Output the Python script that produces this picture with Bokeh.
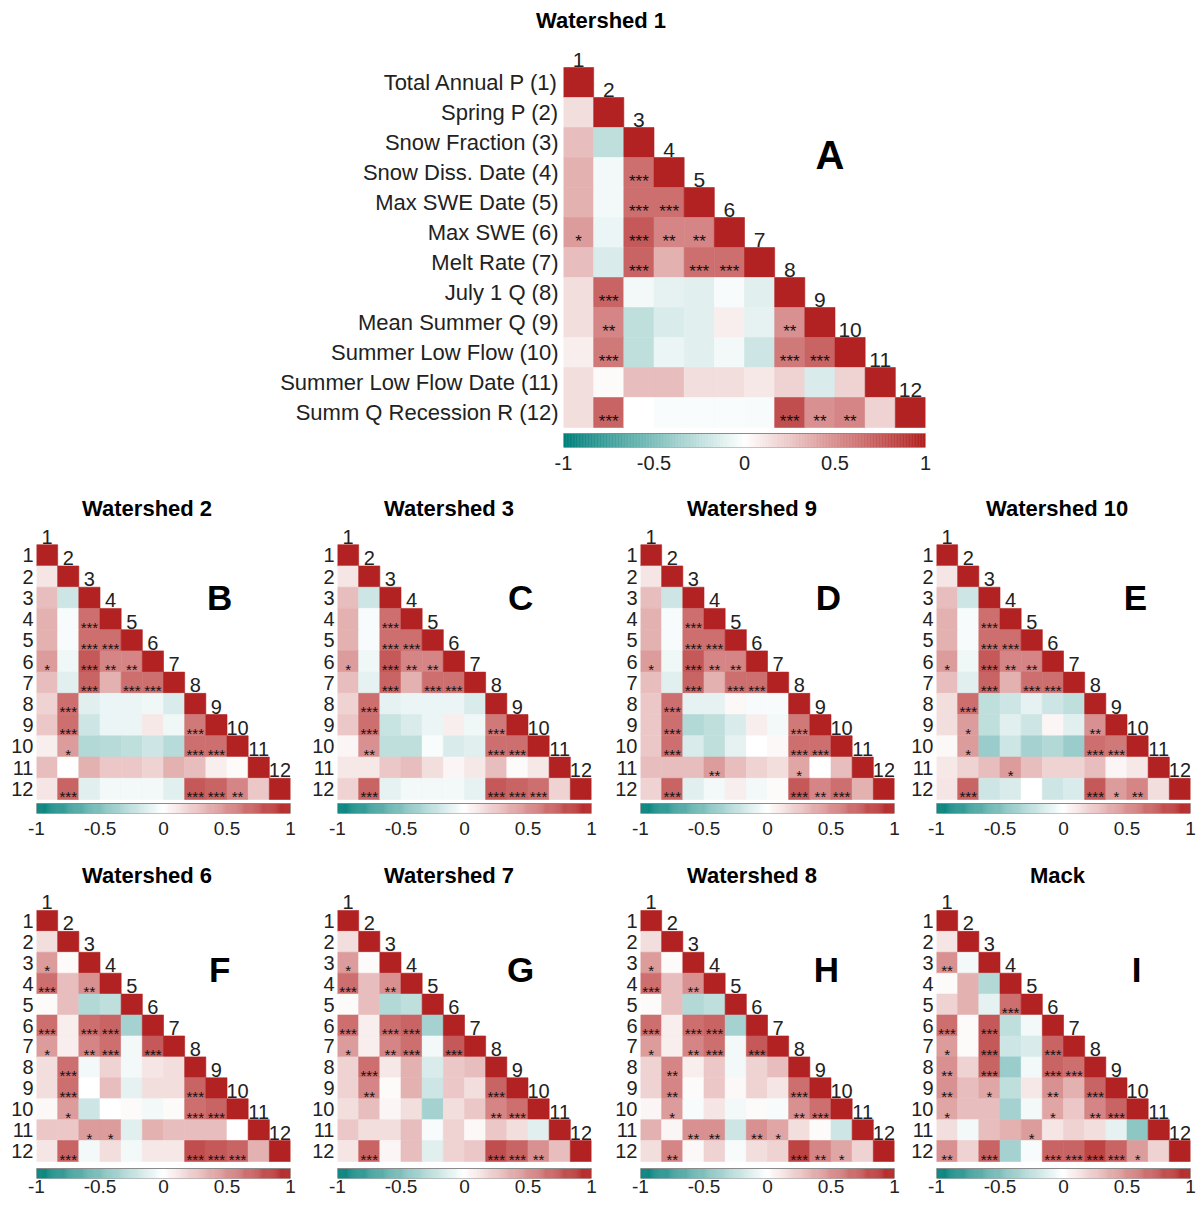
import numpy as np
from bokeh.plotting import figure
from bokeh.models import (ColumnDataSource, LinearColorMapper, Range1d, LinearAxis,
                          FixedTicker, NumeralTickFormatter, Label)
from bokeh.layouts import column, row
from bokeh.core.properties import value
from bokeh.embed import file_html
from bokeh.resources import INLINE

FONT = "Liberation Sans"

# ---------------- data ----------------
var_labels = ["Total Annual P (1)", "Spring P (2)", "Snow Fraction (3)", "Snow Diss. Date (4)",
              "Max SWE Date (5)", "Max SWE (6)", "Melt Rate (7)", "July 1 Q (8)",
              "Mean Summer Q (9)", "Summer Low Flow (10)", "Summer Low Flow Date (11)",
              "Summ Q Recession R (12)"]
num_labels = ["1", "2", "3", "4", "5", "6", "7", "8", "9", "10", "11", "12"]
cb_ticks = [-1.0, -0.5, 0.0, 0.5, 1.0]

# lower-triangle correlations, rows 2..12 (row i holds columns 1..i-1)
ws1_r = [[0.15],
         [0.30, -0.25],
         [0.35, -0.05, 0.65],
         [0.35, -0.05, 0.65, 0.65],
         [0.45, -0.08, 0.75, 0.55, 0.55],
         [0.30, -0.15, 0.70, 0.35, 0.65, 0.65],
         [0.15, 0.70, -0.05, -0.10, -0.12, -0.03, -0.12],
         [0.15, 0.55, -0.25, -0.15, -0.12, 0.08, -0.10, 0.50],
         [0.08, 0.60, -0.25, -0.08, -0.12, -0.05, -0.20, 0.60, 0.70],
         [0.15, 0.02, 0.30, 0.30, 0.15, 0.15, 0.10, 0.20, -0.15, 0.20],
         [0.15, 0.70, 0.00, -0.02, -0.02, -0.02, -0.03, 0.80, 0.50, 0.55, 0.20]]
ws1_sig = [[0], [0, 0], [0, 0, 3], [0, 0, 3, 3], [1, 0, 3, 2, 2], [0, 0, 3, 0, 3, 3],
           [0, 3, 0, 0, 0, 0, 0], [0, 2, 0, 0, 0, 0, 0, 2], [0, 3, 0, 0, 0, 0, 0, 3, 3],
           [0, 0, 0, 0, 0, 0, 0, 0, 0, 0], [0, 3, 0, 0, 0, 0, 0, 3, 2, 2, 0]]

ws2_r = [[0.12],
         [0.30, -0.20],
         [0.35, -0.03, 0.65],
         [0.35, -0.03, 0.65, 0.65],
         [0.45, -0.06, 0.75, 0.55, 0.55],
         [0.30, -0.12, 0.70, 0.35, 0.65, 0.65],
         [0.20, 0.65, -0.12, -0.08, -0.08, -0.06, -0.15],
         [0.25, 0.65, -0.20, -0.08, -0.08, 0.10, -0.06, 0.60],
         [0.08, 0.45, -0.30, -0.28, -0.25, -0.20, -0.28, 0.65, 0.65],
         [0.30, 0.00, 0.35, 0.25, 0.25, 0.20, 0.35, 0.30, 0.08, 0.02],
         [0.12, 0.70, -0.12, -0.05, -0.05, -0.05, -0.12, 0.75, 0.70, 0.55, 0.25]]
ws2_sig = [[0], [0, 0], [0, 0, 3], [0, 0, 3, 3], [1, 0, 3, 2, 2], [0, 0, 3, 0, 3, 3],
           [0, 3, 0, 0, 0, 0, 0], [0, 3, 0, 0, 0, 0, 0, 3], [0, 1, 0, 0, 0, 0, 0, 3, 3],
           [0, 0, 0, 0, 0, 0, 0, 0, 0, 0], [0, 3, 0, 0, 0, 0, 0, 3, 3, 2, 0]]

ws3_r = [[0.12],
         [0.30, -0.20],
         [0.35, -0.03, 0.65],
         [0.35, -0.03, 0.65, 0.65],
         [0.45, -0.06, 0.75, 0.55, 0.55],
         [0.30, -0.10, 0.70, 0.35, 0.65, 0.65],
         [0.20, 0.65, -0.10, -0.08, -0.08, -0.08, -0.15],
         [0.25, 0.65, -0.22, -0.15, -0.08, 0.08, -0.06, 0.60],
         [0.05, 0.50, -0.25, -0.25, -0.02, -0.15, -0.12, 0.65, 0.65],
         [0.10, 0.10, 0.25, 0.30, 0.15, 0.05, 0.10, 0.30, 0.02, 0.10],
         [0.20, 0.70, -0.10, -0.05, -0.05, -0.05, -0.10, 0.75, 0.70, 0.65, 0.20]]
ws3_sig = [[0], [0, 0], [0, 0, 3], [0, 0, 3, 3], [1, 0, 3, 2, 2], [0, 0, 3, 0, 3, 3],
           [0, 3, 0, 0, 0, 0, 0], [0, 3, 0, 0, 0, 0, 0, 3], [0, 2, 0, 0, 0, 0, 0, 3, 3],
           [0, 0, 0, 0, 0, 0, 0, 0, 0, 0], [0, 3, 0, 0, 0, 0, 0, 3, 3, 3, 0]]

ws9_r = [[0.12],
         [0.30, -0.20],
         [0.35, -0.03, 0.65],
         [0.35, -0.03, 0.65, 0.65],
         [0.45, -0.06, 0.75, 0.55, 0.55],
         [0.30, -0.12, 0.70, 0.35, 0.65, 0.65],
         [0.25, 0.65, -0.10, -0.10, 0.03, -0.03, -0.03],
         [0.25, 0.65, -0.30, -0.25, -0.15, 0.08, -0.05, 0.60],
         [0.25, 0.65, -0.15, -0.25, -0.10, 0.00, 0.03, 0.65, 0.65],
         [0.30, 0.30, 0.30, 0.45, 0.30, 0.20, 0.15, 0.40, 0.00, 0.30],
         [0.20, 0.70, -0.12, -0.05, 0.08, -0.05, 0.02, 0.75, 0.55, 0.65, 0.35]]
ws9_sig = [[0], [0, 0], [0, 0, 3], [0, 0, 3, 3], [1, 0, 3, 2, 2], [0, 0, 3, 0, 3, 3],
           [0, 3, 0, 0, 0, 0, 0], [0, 3, 0, 0, 0, 0, 0, 3], [0, 3, 0, 0, 0, 0, 0, 3, 3],
           [0, 0, 0, 2, 0, 0, 0, 1, 0, 0], [0, 3, 0, 0, 0, 0, 0, 3, 2, 3, 0]]

ws10_r = [[0.12],
          [0.30, -0.20],
          [0.35, -0.03, 0.65],
          [0.35, -0.03, 0.65, 0.65],
          [0.45, -0.06, 0.75, 0.55, 0.55],
          [0.30, -0.12, 0.70, 0.35, 0.65, 0.65],
          [0.15, 0.65, -0.25, -0.20, -0.10, -0.20, -0.25],
          [0.15, 0.45, -0.25, -0.12, -0.20, 0.05, -0.12, 0.50],
          [0.03, 0.45, -0.40, -0.20, -0.35, -0.30, -0.40, 0.65, 0.60],
          [0.10, 0.20, 0.30, 0.45, 0.30, 0.20, 0.20, 0.30, 0.05, 0.10],
          [0.12, 0.70, -0.20, -0.15, 0.00, -0.20, -0.15, 0.75, 0.45, 0.55, 0.15]]
ws10_sig = [[0], [0, 0], [0, 0, 3], [0, 0, 3, 3], [1, 0, 3, 2, 2], [0, 0, 3, 0, 3, 3],
            [0, 3, 0, 0, 0, 0, 0], [0, 1, 0, 0, 0, 0, 0, 2], [0, 1, 0, 0, 0, 0, 0, 3, 3],
            [0, 0, 0, 1, 0, 0, 0, 0, 0, 0], [0, 3, 0, 0, 0, 0, 0, 3, 1, 2, 0]]

ws6_r = [[0.15],
         [0.45, 0.02],
         [0.65, 0.30, 0.50],
         [0.02, 0.30, -0.30, -0.25],
         [0.65, 0.08, 0.65, 0.70, -0.35],
         [0.45, 0.08, 0.55, 0.65, -0.05, 0.75],
         [0.15, 0.65, -0.05, 0.20, -0.05, 0.12, 0.15],
         [0.15, 0.65, 0.00, 0.30, -0.10, 0.15, 0.15, 0.70],
         [0.03, 0.45, -0.20, 0.00, 0.02, -0.05, 0.02, 0.65, 0.70],
         [0.25, 0.25, 0.45, 0.45, -0.12, 0.35, 0.30, 0.30, 0.30, 0.00],
         [0.12, 0.70, -0.05, 0.15, -0.05, 0.10, 0.10, 0.80, 0.75, 0.70, 0.35]]
ws6_sig = [[0], [1, 0], [3, 0, 2], [0, 0, 0, 0], [3, 0, 3, 3, 0], [1, 0, 2, 3, 0, 3],
           [0, 3, 0, 0, 0, 0, 0], [0, 3, 0, 0, 0, 0, 0, 3], [0, 1, 0, 0, 0, 0, 0, 3, 3],
           [0, 0, 1, 1, 0, 0, 0, 0, 0, 0], [0, 3, 0, 0, 0, 0, 0, 3, 3, 3, 0]]

ws7_r = [[0.15],
         [0.45, 0.02],
         [0.65, 0.30, 0.50],
         [0.02, 0.30, -0.30, -0.25],
         [0.65, 0.08, 0.65, 0.70, -0.35],
         [0.45, 0.08, 0.55, 0.65, -0.05, 0.75],
         [0.20, 0.65, 0.10, 0.35, -0.15, 0.25, 0.30],
         [0.20, 0.55, 0.02, 0.35, -0.20, 0.25, 0.15, 0.70],
         [0.15, 0.30, 0.05, 0.15, -0.35, 0.15, 0.25, 0.55, 0.65],
         [0.25, 0.15, 0.15, 0.30, -0.03, 0.20, 0.03, 0.25, 0.15, -0.12],
         [0.12, 0.70, 0.05, 0.30, -0.12, 0.20, 0.25, 0.80, 0.70, 0.50, 0.30]]
ws7_sig = [[0], [1, 0], [3, 0, 2], [0, 0, 0, 0], [3, 0, 3, 3, 0], [1, 0, 2, 3, 0, 3],
           [0, 3, 0, 0, 0, 0, 0], [0, 2, 0, 0, 0, 0, 0, 3], [0, 0, 0, 0, 0, 0, 0, 2, 3],
           [0, 0, 0, 0, 0, 0, 0, 0, 0, 0], [0, 3, 0, 0, 0, 0, 0, 3, 3, 2, 0]]

ws8_r = [[0.15],
         [0.45, 0.02],
         [0.65, 0.30, 0.50],
         [0.02, 0.30, -0.30, -0.25],
         [0.65, 0.08, 0.65, 0.70, -0.35],
         [0.45, 0.08, 0.55, 0.65, -0.05, 0.75],
         [0.20, 0.55, 0.08, 0.25, -0.05, 0.20, 0.30],
         [0.20, 0.55, 0.02, 0.25, 0.03, 0.20, 0.12, 0.65],
         [0.05, 0.45, -0.03, 0.12, -0.05, 0.02, -0.03, 0.50, 0.65],
         [0.35, 0.05, 0.50, 0.50, -0.20, 0.50, 0.40, 0.15, 0.02, -0.20],
         [0.15, 0.55, 0.03, 0.20, -0.03, 0.15, 0.20, 0.85, 0.55, 0.40, 0.20]]
ws8_sig = [[0], [1, 0], [3, 0, 2], [0, 0, 0, 0], [3, 0, 3, 3, 0], [1, 0, 2, 3, 0, 3],
           [0, 2, 0, 0, 0, 0, 0], [0, 2, 0, 0, 0, 0, 0, 3], [0, 1, 0, 0, 0, 0, 0, 2, 3],
           [0, 0, 2, 2, 0, 2, 1, 0, 0, 0], [0, 2, 0, 0, 0, 0, 0, 3, 2, 1, 0]]

mack_r = [[0.12],
          [0.50, -0.05],
          [0.02, 0.35, -0.30],
          [0.20, 0.35, -0.10, 0.65],
          [0.65, 0.02, 0.75, -0.25, -0.05],
          [0.45, 0.02, 0.75, -0.20, -0.15, 0.70],
          [0.50, 0.20, 0.70, -0.40, -0.05, 0.70, 0.65],
          [0.50, 0.30, 0.40, -0.25, 0.10, 0.50, 0.35, 0.70],
          [0.40, 0.30, 0.30, -0.35, -0.05, 0.40, 0.25, 0.55, 0.70],
          [0.15, -0.05, 0.30, 0.35, 0.45, 0.12, 0.20, 0.15, -0.10, -0.45],
          [0.50, 0.20, 0.70, -0.35, -0.03, 0.70, 0.70, 0.85, 0.70, 0.45, 0.20]]
mack_sig = [[0], [2, 0], [0, 0, 0], [0, 0, 0, 3], [3, 0, 3, 0, 0], [1, 0, 3, 0, 0, 3],
            [2, 0, 3, 0, 0, 3, 3], [2, 0, 1, 0, 0, 2, 0, 3], [1, 0, 0, 0, 0, 1, 0, 2, 3],
            [0, 0, 0, 0, 1, 0, 0, 0, 0, 0], [2, 0, 3, 0, 0, 3, 3, 3, 3, 1, 0]]

# ---------------- styling ----------------
def make_palette(n=255):
    teal = np.array([0, 128, 122], dtype=float)
    white = np.array([255, 255, 255], dtype=float)
    red = np.array([178, 34, 34], dtype=float)
    out = []
    for t in np.linspace(-1, 1, n):
        c = white + (teal - white) * (-t) if t < 0 else white + (red - white) * t
        out.append("#%02x%02x%02x" % tuple(int(round(v)) for v in c))
    return out

PAL = make_palette()
mapper = LinearColorMapper(palette=PAL, low=-1, high=1)
TXT = "#222222"
BOLD_EM = {"W": .944, "a": .556, "t": .333, "e": .556, "r": .389, "s": .556, "h": .611,
           "d": .611, " ": .278, "M": .833, "c": .556, "k": .556}


def text_w(s, fs):
    return sum(BOLD_EM.get(ch, .556) for ch in s) * fs


def panel(title, r_rows, sig_rows, labels, letter, letter_xy, fw, fh, mb, title_cx,
          frame_left, title_fs, title_standoff, lab_fs, lab_standoff, num_fs, star_fs,
          letter_fs, tick_fs, tick_standoff, gap, barh):
    cy = (fh - gap - barh) / 13.0
    ybot = 12.5 + (gap + barh) / cy
    p = figure(frame_width=fw, frame_height=fh, x_range=Range1d(0.5, 12.5),
               y_range=Range1d(ybot, -0.5), x_axis_location=None, y_axis_location="left",
               output_backend="svg", toolbar_location=None, tools="", title=title,
               min_border_left=mb[0], min_border_right=mb[1], min_border_top=mb[2],
               min_border_bottom=mb[3])
    p.outline_line_color = None
    p.xgrid.visible = False
    p.ygrid.visible = False
    p.background_fill_color = "white"
    p.border_fill_color = "white"

    p.title.text_font = FONT
    p.title.text_font_size = f"{title_fs}px"
    p.title.text_font_style = "bold"
    p.title.text_color = "black"
    p.title.align = "left"
    p.title.offset = title_cx - frame_left - text_w(title, title_fs) / 2.0
    p.title.standoff = title_standoff

    xs, ys, rs, st = [], [], [], []
    for i in range(1, 13):
        if i >= 2:
            vals = r_rows[i - 2]
            sg = sig_rows[i - 2]
            for j in range(1, i):
                xs.append(j)
                ys.append(i)
                rs.append(vals[j - 1])
                st.append("*" * sg[j - 1])
        xs.append(i)
        ys.append(i)
        rs.append(1.0)
        st.append("")
    src = ColumnDataSource(dict(x=xs, y=ys, r=rs, st=st))
    p.rect(x="x", y="y", width=1, height=1, source=src,
           fill_color={"field": "r", "transform": mapper},
           line_color={"field": "r", "transform": mapper}, line_width=0.6)
    p.text(x="x", y="y", text="st", source=src, text_align="center",
           text_baseline="alphabetic", y_offset=round(0.55 * star_fs),
           text_font=value(FONT), text_font_size=f"{star_fs}px", text_color="#111111")

    # column numbers above the diagonal
    nsrc = ColumnDataSource(dict(x=list(range(1, 13)), y=[k - 0.5 for k in range(1, 13)],
                                 t=num_labels))
    p.text(x="x", y="y", text="t", source=nsrc, text_align="center", text_baseline="bottom",
           y_offset=-1, text_font=value(FONT), text_font_size=f"{num_fs}px", text_color=TXT)

    # row labels
    p.yaxis.ticker = FixedTicker(ticks=list(range(1, 13)))
    p.yaxis.major_label_overrides = {k + 1: lab for k, lab in enumerate(labels)}
    p.yaxis.axis_line_color = None
    p.yaxis.major_tick_line_color = None
    p.yaxis.minor_tick_line_color = None
    p.yaxis.major_tick_out = 0
    p.yaxis.major_tick_in = 0
    p.yaxis.major_label_standoff = lab_standoff
    p.yaxis.major_label_text_font = FONT
    p.yaxis.major_label_text_font_size = f"{lab_fs}px"
    p.yaxis.major_label_text_color = TXT

    # colour bar
    p.extra_x_ranges = {"cb": Range1d(-1, 1)}
    n = 240
    edges = np.linspace(-1, 1, n + 1)
    centers = (edges[:-1] + edges[1:]) / 2
    cb_src = ColumnDataSource(dict(x=centers, v=centers))
    ycb = 12.5 + (gap + barh / 2.0) / cy
    hcb = barh / cy
    p.rect(x="x", y=ycb, width=2.0 / n, height=hcb, source=cb_src, x_range_name="cb",
           fill_color={"field": "v", "transform": mapper},
           line_color={"field": "v", "transform": mapper}, line_width=0.5)
    p.rect(x=0, y=ycb, width=2, height=hcb, x_range_name="cb", fill_color=None,
           line_color="#8a8a8a", line_width=1)
    ax = LinearAxis(x_range_name="cb", ticker=FixedTicker(ticks=cb_ticks),
                    formatter=NumeralTickFormatter(format="0.[0]"))
    ax.axis_line_color = None
    ax.major_tick_line_color = None
    ax.minor_tick_line_color = None
    ax.major_tick_out = 0
    ax.major_tick_in = 0
    ax.major_label_standoff = tick_standoff
    ax.major_label_text_font = FONT
    ax.major_label_text_font_size = f"{tick_fs}px"
    ax.major_label_text_color = TXT
    p.add_layout(ax, "below")

    p.add_layout(Label(x=letter_xy[0], y=letter_xy[1], text=letter, text_align="center",
                       text_baseline="middle", text_font=FONT,
                       text_font_size=f"{letter_fs}px", text_font_style="bold",
                       text_color="black"))
    return p


# panel A
pA = panel("Watershed 1", ws1_r, ws1_sig, var_labels, "A", (9.33, 3.43), 362, 410,
           (563, 10, 29, 43), 601, 563, 22, 10, 22, 5, 21, 17, 40, 20, 8, 6, 14)

small = [("Watershed 2", ws2_r, ws2_sig, "B", (9.15, 3.0)),
         ("Watershed 3", ws3_r, ws3_sig, "C", (9.15, 3.0)),
         ("Watershed 9", ws9_r, ws9_sig, "D", (9.38, 3.0)),
         ("Watershed 10", ws10_r, ws10_sig, "E", (9.9, 3.0)),
         ("Watershed 6", ws6_r, ws6_sig, "F", (9.15, 3.3)),
         ("Watershed 7", ws7_r, ws7_sig, "G", (9.15, 3.3)),
         ("Watershed 8", ws8_r, ws8_sig, "H", (9.28, 3.3)),
         ("Mack", mack_r, mack_sig, "I", (9.95, 3.3))]
title_centers = [147, 449, 752, 1057]
frame_lefts = [36, 337, 640, 936]
left_borders = [36, 28, 28, 28]
right_borders = [19, 21, 14, 6]
FW = 254

figs = []
for k, (t, r, s, letter, lxy) in enumerate(small):
    c = k % 4
    if k < 4:
        mb = (left_borders[c], right_borders[c], 33, 43)
        fh, stoff, tso, gap = 290, 6, 8, 4
    else:
        mb = (left_borders[c], right_borders[c], 33, 23)
        fh, stoff, tso, gap = 289, 4, 1, 7
    figs.append(panel(t, r, s, num_labels, letter, lxy, FW, fh, mb,
                      title_centers[c], frame_lefts[c], 22, stoff, 20, 3, 20, 15, 35,
                      19, tso, gap, 10))

layout = column(pA, row(*figs[:4]), row(*figs[4:]))
open("out.html", "w").write(file_html(layout, INLINE))
